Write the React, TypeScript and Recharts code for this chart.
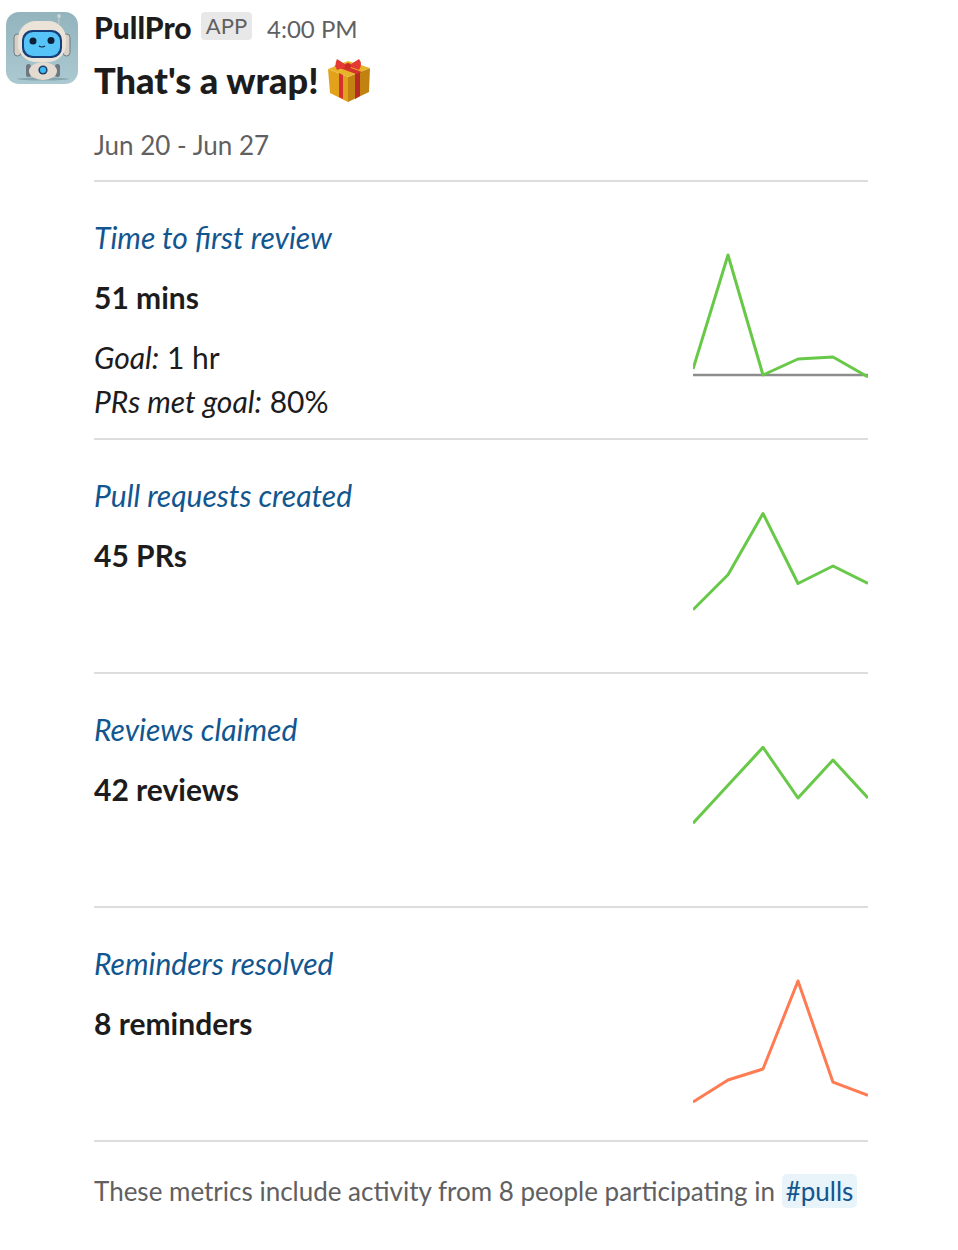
import { LineChart, Line, XAxis, YAxis, ReferenceLine } from "recharts";

const days = ["Jun 21", "Jun 22", "Jun 23", "Jun 24", "Jun 25", "Jun 26"];
const reviewMinutes = [6, 120, 0, 16, 18, -2];
const pullRequests = [3, 7, 14, 6, 8, 6];
const reviews = [4, 7, 10, 6, 9, 6];
const reminders = [0, 2, 3, 11, 1.8, 0.6];

const titles = ["Time to first review", "Pull requests created", "Reviews claimed", "Reminders resolved"];
const totals = ["51 mins", "45 PRs", "42 reviews", "8 reminders"];

const GREEN = "#67c947";
const ORANGE = "#ff7b52";
const font = "Lato, sans-serif";

const rules = [181, 439, 673, 907, 1141];
const titleTops = [236.5, 494.5, 728.5, 962.5];

function toRows(values: number[]) {
  return values.map((value, i) => ({ day: days[i], value }));
}

type SparkProps = {
  values: number[];
  top: number;
  height: number;
  domain: [number, number];
  color: string;
  baseline?: boolean;
};

function Spark({ values, top, height, domain, color, baseline }: SparkProps) {
  return (
    <div style={{ position: "absolute", left: 693, top }}>
      <LineChart width={175} height={height} data={toRows(values)} margin={{ top: 0, right: 0, bottom: 0, left: 0 }}>
        <XAxis dataKey="day" hide />
        <YAxis hide domain={domain} allowDataOverflow />
        {baseline && <ReferenceLine y={0} stroke="#8d8d8d" strokeWidth={2.5} />}
        <Line
          dataKey="value"
          stroke={color}
          strokeWidth={3}
          strokeLinejoin="round"
          dot={false}
          type="linear"
          isAnimationActive={false}
        />
      </LineChart>
    </div>
  );
}

function Text({ x, y, size, color = "#1d1c1d", weight = 400, italic, children }: any) {
  return (
    <div
      style={{
        position: "absolute",
        left: x,
        top: y - 25,
        lineHeight: "50px",
        fontSize: size,
        fontWeight: weight,
        fontStyle: italic ? "italic" : "normal",
        color,
        fontFamily: font,
        whiteSpace: "nowrap",
      }}
    >
      {children}
    </div>
  );
}

function Avatar() {
  return (
    <svg width={72} height={72} viewBox="0 0 72 72" style={{ position: "absolute", left: 6, top: 12 }}>
      <defs>
        <linearGradient id="bg" x1="0" y1="0" x2="0" y2="1">
          <stop offset="0" stopColor="#93b4bd" />
          <stop offset="1" stopColor="#abc9d1" />
        </linearGradient>
      </defs>
      <rect width={72} height={72} rx={13} fill="url(#bg)" />
      <ellipse cx={37} cy={67} rx={26} ry={1.5} fill="#86a5ae" />
      <rect x={52} y={4} width={1.6} height={8} fill="#b7c4c8" />
      <circle cx={53} cy={4} r={2} fill="#c9d3d6" />
      <rect x={8} y={22} width={7} height={22} rx={3.5} fill="#d8d0c6" stroke="#6e7a84" />
      <rect x={57} y={22} width={7} height={22} rx={3.5} fill="#d8d0c6" stroke="#6e7a84" />
      <rect x={12} y={9} width={48} height={41} rx={18} fill="#ece3d8" />
      <rect x={16} y={18} width={40} height={28} rx={10} fill="#173f78" />
      <rect x={18} y={20} width={36} height={24} rx={9} fill="#56c4f6" />
      <circle cx={27} cy={29} r={3.5} fill="#0e2038" />
      <circle cx={45} cy={28.5} r={3.5} fill="#0e2038" />
      <path d="M33 34 Q36 36 39 34" stroke="#0e2038" strokeWidth={1.2} fill="none" />
      <rect x={20} y={52} width={5} height={13} rx={2.5} fill="#6f7680" />
      <rect x={49} y={52} width={5} height={13} rx={2.5} fill="#6f7680" />
      <ellipse cx={37} cy={59} rx={14} ry={9} fill="#e4dbd0" />
      <circle cx={37} cy={58} r={4.6} fill="#24406a" />
      <circle cx={37} cy={58} r={3} fill="#3cbcf4" />
    </svg>
  );
}

function Gift() {
  return (
    <svg width={46} height={46} viewBox="0 0 46 46" style={{ position: "absolute", left: 326, top: 57 }}>
      <polygon points="2,12 22,20 22,45 4,36" fill="#e2a21c" />
      <polygon points="22,20 44,11 43,35 22,45" fill="#c28210" />
      <polygon points="2,12 22,4 44,11 22,20" fill="#e8b52a" />
      <polygon points="13,16 17,18 17,42 13,40" fill="#d4322c" />
      <polygon points="29,17 34,15 34,39 29,42" fill="#b92a25" />
      <polygon points="8,9 14,7 36,15 30,17" fill="#d4322c" />
      <path d="M22 9 L11 2 Q8 8 11 13 Z" fill="#e53a33" />
      <path d="M22 9 L33 2 Q37 7 33 13 Z" fill="#e53a33" />
      <circle cx={22} cy={9} r={3} fill="#c92b26" />
    </svg>
  );
}

export default function App() {
  return (
    <div style={{ position: "absolute", left: 0, top: 0, width: 958, height: 1250, background: "#fff", overflow: "hidden" }}>
      <Avatar />
      <Text x={94} y={27} size={30} weight={900}>PullPro</Text>
      <div
        style={{
          position: "absolute",
          left: 201,
          top: 12,
          width: 51,
          height: 28,
          borderRadius: 4,
          background: "#e8e8e8",
          color: "#616061",
          fontFamily: font,
          fontSize: 22,
          lineHeight: "28px",
          textAlign: "center",
        }}
      >
        APP
      </div>
      <Text x={267} y={29} size={24} color="#616061">4:00 PM</Text>
      <Text x={94} y={80} size={36.2} weight={900}>That's a wrap!</Text>
      <Gift />
      <Text x={94} y={144.5} size={26} color="#616061">Jun 20 - Jun 27</Text>

      {rules.map((y) => (
        <div key={y} style={{ position: "absolute", left: 94, top: y - 1, width: 774, height: 2, background: "#dddddd" }} />
      ))}

      {titles.map((title, i) => (
        <Text key={title} x={94} y={titleTops[i]} size={30} italic color="#12568f">{title}</Text>
      ))}
      {totals.map((total, i) => (
        <Text key={total} x={94} y={titleTops[i] + 60} size={30} weight={700}>{total}</Text>
      ))}

      <Text x={94} y={356.5} size={30}><i>Goal:</i> 1 hr</Text>
      <Text x={94} y={400.5} size={30}><i>PRs met goal:</i> 80%</Text>

      <Spark values={reviewMinutes} top={250} height={130} domain={[-5, 125]} color={GREEN} baseline />
      <Spark values={pullRequests} top={495.5} height={140} domain={[0, 16]} color={GREEN} />
      <Spark values={reviews} top={722} height={152} domain={[0, 12]} color={GREEN} />
      <Spark values={reminders} top={970} height={143} domain={[-1, 12]} color={ORANGE} />

      <Text x={94} y={1190.5} size={26} color="#616061">These metrics include activity from 8 people participating in</Text>
      <div
        style={{
          position: "absolute",
          left: 782,
          top: 1174,
          width: 75,
          height: 34,
          borderRadius: 5,
          background: "#e8f3fa",
          color: "#12568f",
          fontFamily: font,
          fontSize: 26,
          lineHeight: "34px",
          textAlign: "center",
        }}
      >
        #pulls
      </div>
    </div>
  );
}
